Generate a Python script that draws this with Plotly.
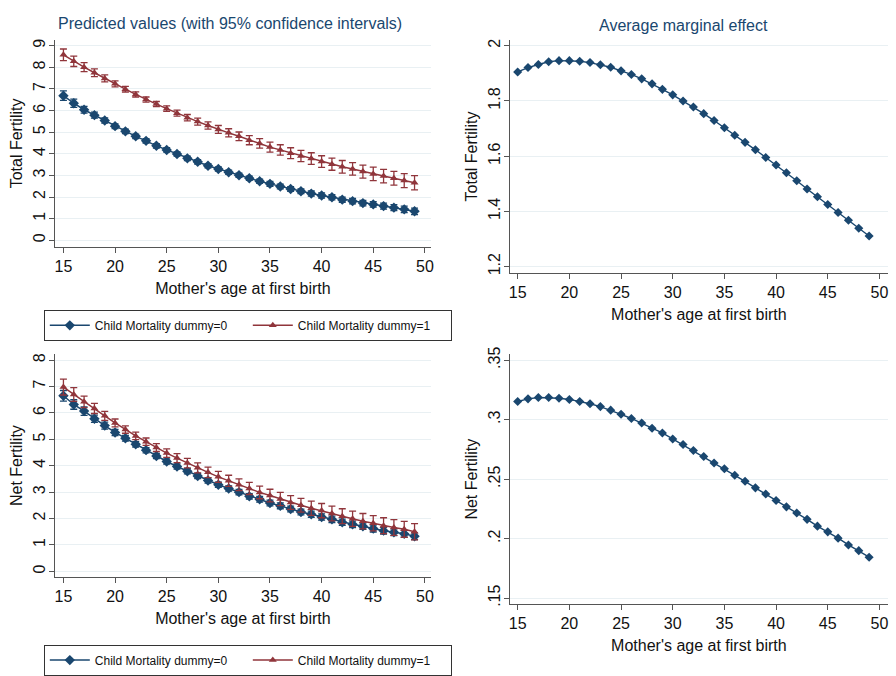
import plotly.graph_objects as go

ages = list(range(15, 50))

# Top-left: Total fertility predicted values
tf_dummy0 = [6.69, 6.34, 6.04, 5.79, 5.54, 5.28, 5.04, 4.81, 4.60, 4.37, 4.18, 3.99, 3.79, 3.63, 3.45,
             3.30, 3.15, 3.01, 2.87, 2.73, 2.61, 2.49, 2.37, 2.27, 2.16, 2.07, 1.99, 1.88, 1.81, 1.72,
             1.66, 1.58, 1.51, 1.43, 1.34]
tf_dummy0_ci = [0.22, 0.19, 0.16, 0.14, 0.12, 0.11, 0.10, 0.10, 0.10, 0.10, 0.10, 0.10, 0.10, 0.10, 0.10,
                0.10, 0.10, 0.10, 0.10, 0.10, 0.11, 0.11, 0.11, 0.11, 0.12, 0.12, 0.12, 0.12, 0.13, 0.13,
                0.13, 0.14, 0.14, 0.15, 0.15]
tf_dummy1 = [8.58, 8.28, 8.01, 7.75, 7.49, 7.24, 6.99, 6.75, 6.51, 6.30, 6.09, 5.88, 5.67, 5.49, 5.31,
             5.13, 4.97, 4.81, 4.63, 4.48, 4.31, 4.18, 4.03, 3.90, 3.78, 3.64, 3.52, 3.40, 3.30, 3.18,
             3.07, 2.97, 2.87, 2.76, 2.66]
tf_dummy1_ci = [0.27, 0.24, 0.21, 0.18, 0.16, 0.14, 0.13, 0.12, 0.12, 0.12, 0.13, 0.14, 0.15, 0.16, 0.17,
                0.18, 0.19, 0.20, 0.21, 0.22, 0.23, 0.24, 0.25, 0.26, 0.27, 0.27, 0.28, 0.29, 0.29, 0.30,
                0.31, 0.31, 0.32, 0.32, 0.33]

# Top-right: average marginal effect on total fertility
tf_ame = [1.905, 1.921, 1.932, 1.942, 1.946, 1.946, 1.944, 1.939, 1.931, 1.922, 1.909, 1.896, 1.880,
          1.862, 1.842, 1.822, 1.800, 1.778, 1.754, 1.729, 1.703, 1.676, 1.650, 1.623, 1.595, 1.568,
          1.540, 1.511, 1.481, 1.453, 1.425, 1.396, 1.368, 1.339, 1.311]

# Bottom-left: Net fertility predicted values
nf_dummy0 = [6.65, 6.32, 6.07, 5.78, 5.52, 5.26, 5.04, 4.81, 4.59, 4.37, 4.16, 3.97, 3.79, 3.61, 3.44,
             3.28, 3.14, 3.00, 2.84, 2.73, 2.59, 2.48, 2.36, 2.25, 2.16, 2.06, 1.97, 1.86, 1.78, 1.71,
             1.62, 1.54, 1.48, 1.42, 1.33]
nf_dummy0_ci = [0.20, 0.18, 0.16, 0.14, 0.13, 0.12, 0.11, 0.10, 0.10, 0.10, 0.10, 0.10, 0.10, 0.10, 0.10,
                0.10, 0.10, 0.10, 0.10, 0.11, 0.11, 0.11, 0.11, 0.11, 0.12, 0.12, 0.12, 0.12, 0.12, 0.12,
                0.13, 0.13, 0.13, 0.13, 0.13]
nf_dummy1 = [6.98, 6.70, 6.42, 6.17, 5.89, 5.62, 5.37, 5.13, 4.91, 4.69, 4.48, 4.29, 4.10, 3.92, 3.75,
             3.58, 3.43, 3.28, 3.14, 2.99, 2.87, 2.74, 2.61, 2.50, 2.39, 2.30, 2.19, 2.09, 1.99, 1.90,
             1.82, 1.73, 1.66, 1.59, 1.50]
nf_dummy1_ci = [0.30, 0.26, 0.22, 0.19, 0.17, 0.15, 0.14, 0.14, 0.14, 0.15, 0.16, 0.17, 0.18, 0.19, 0.20,
                0.21, 0.21, 0.22, 0.23, 0.24, 0.24, 0.25, 0.26, 0.26, 0.27, 0.27, 0.28, 0.28, 0.29, 0.29,
                0.29, 0.30, 0.30, 0.30, 0.31]

# Bottom-right: average marginal effect on net fertility
nf_ame = [0.3153, 0.3175, 0.3186, 0.3186, 0.3180, 0.3170, 0.3153, 0.3134, 0.3110, 0.3080, 0.3045,
          0.3010, 0.2972, 0.2928, 0.2888, 0.2837, 0.2791, 0.2741, 0.2690, 0.2636, 0.2587, 0.2533,
          0.2482, 0.2427, 0.2375, 0.2321, 0.2267, 0.2216, 0.2162, 0.2105, 0.2057, 0.2004, 0.1947,
          0.1899, 0.1844]

x_ticks = [15, 20, 25, 30, 35, 40, 45, 50]
tl_yticks = [0, 1, 2, 3, 4, 5, 6, 7, 8, 9]
tr_yticks = [1.2, 1.4, 1.6, 1.8, 2.0]
tr_ylabels = ["1.2", "1.4", "1.6", "1.8", "2"]
bl_yticks = [0, 1, 2, 3, 4, 5, 6, 7, 8]
br_yticks = [0.15, 0.2, 0.25, 0.3, 0.35]
br_ylabels = [".15", ".2", ".25", ".3", ".35"]

label0 = "Child Mortality dummy=0"
label1 = "Child Mortality dummy=1"
title_left = "Predicted values (with 95% confidence intervals)"
title_right = "Average marginal effect"
xtitle = "Mother's age at first birth"

BLUE = "#1a476f"
RED = "#90353b"
GRID = "#e9f0f3"
AXIS = "#555555"
FONT = "Liberation Sans, Arial, sans-serif"

W, H = 896, 676

def px_x(a, b):
    return [a / W, b / W]

def px_y(top, bottom):
    return [1 - bottom / H, 1 - top / H]

fig = go.Figure()

def pred_traces(xa, ya, y0, c0, y1, c1, legend):
    fig.add_trace(go.Scatter(
        x=ages, y=y0, mode="lines+markers", name=label0, xaxis=xa, yaxis=ya,
        line=dict(color=BLUE, width=1.5),
        marker=dict(symbol="diamond", size=8, color=BLUE),
        error_y=dict(type="data", array=c0, color=BLUE, thickness=1.3, width=3.5),
        legend=legend, showlegend=True))
    fig.add_trace(go.Scatter(
        x=ages, y=y1, mode="lines+markers", name=label1, xaxis=xa, yaxis=ya,
        line=dict(color=RED, width=1.5),
        marker=dict(symbol="triangle-up", size=7, color=RED),
        error_y=dict(type="data", array=c1, color=RED, thickness=1.3, width=3.5),
        legend=legend, showlegend=True))

pred_traces("x", "y", tf_dummy0, tf_dummy0_ci, tf_dummy1, tf_dummy1_ci, "legend")
pred_traces("x3", "y3", nf_dummy0, nf_dummy0_ci, nf_dummy1, nf_dummy1_ci, "legend2")

for xa, ya, vals in [("x2", "y2", tf_ame), ("x4", "y4", nf_ame)]:
    fig.add_trace(go.Scatter(
        x=ages, y=vals, mode="lines+markers", xaxis=xa, yaxis=ya, showlegend=False,
        line=dict(color=BLUE, width=1.4),
        marker=dict(symbol="diamond", size=7, color=BLUE)))

tickfont = dict(family=FONT, size=16, color="#111111")
titlefont = dict(family=FONT, size=16, color="#111111")

def xaxis(domain, anchor, rng):
    return dict(domain=domain, anchor=anchor, range=rng, tickvals=x_ticks,
                showgrid=False, zeroline=False, showline=True, linecolor=AXIS, linewidth=1,
                ticks="outside", ticklen=5, tickcolor=AXIS, tickfont=tickfont,
                title=dict(text=xtitle, font=titlefont, standoff=8))

def yaxis(domain, anchor, rng, vals, labels, title):
    return dict(domain=domain, anchor=anchor, range=rng, tickvals=vals, ticktext=labels,
                tickangle=-90, showgrid=True, gridcolor=GRID, gridwidth=1, zeroline=False,
                showline=True, linecolor=AXIS, linewidth=1,
                ticks="outside", ticklen=5, tickcolor=AXIS, tickfont=tickfont,
                ticklabelstandoff=-3,
                title=dict(text=title, font=titlefont, standoff=4))

L = px_x(54, 432)
R = px_x(511, 891)

legend_common = dict(orientation="h", x=43 / W, xanchor="left", yanchor="top",
                     bordercolor="#333333", borderwidth=1, bgcolor="white",
                     font=dict(family=FONT, size=12, color="#111111"),
                     entrywidth=148, entrywidthmode="pixels", itemwidth=40)

fig.update_layout(
    width=W, height=H,
    margin=dict(l=0, r=0, t=0, b=0),
    paper_bgcolor="white", plot_bgcolor="white",
    font=dict(family=FONT),
    xaxis=xaxis(L, "y", [14.16, 50.6]),
    yaxis=yaxis(px_y(33, 247), "x", [-0.31, 9.27], tl_yticks, [str(v) for v in tl_yticks], "Total Fertility"),
    xaxis2=xaxis(R, "y2", [14.23, 50.83]),
    yaxis2=yaxis(px_y(33, 274), "x2", [1.1765, 2.021], tr_yticks, tr_ylabels, "Total Fertility"),
    xaxis3=xaxis(L, "y3", [14.16, 50.6]),
    yaxis3=yaxis(px_y(358, 588), "x3", [-0.21, 8.22], bl_yticks, [str(v) for v in bl_yticks], "Net Fertility"),
    xaxis4=xaxis(R, "y4", [14.23, 50.83]),
    yaxis4=yaxis(px_y(358, 616), "x4", [0.1451, 0.3549], br_yticks, br_ylabels, "Net Fertility"),
    legend=dict(legend_common, y=1 - 312 / H),
    legend2=dict(legend_common, y=1 - 658 / H),
    annotations=[
        dict(text=title_left, x=230 / W, y=1 - 16 / H, xref="paper", yref="paper",
             xanchor="center", yanchor="middle",
             showarrow=False, font=dict(family=FONT, size=16, color=BLUE)),
        dict(text=title_right, x=686 / W, y=1 - 18 / H, xref="paper", yref="paper",
             xanchor="center", yanchor="middle",
             showarrow=False, font=dict(family=FONT, size=16, color=BLUE)),
    ],
)

fig.write_html("out.html")
